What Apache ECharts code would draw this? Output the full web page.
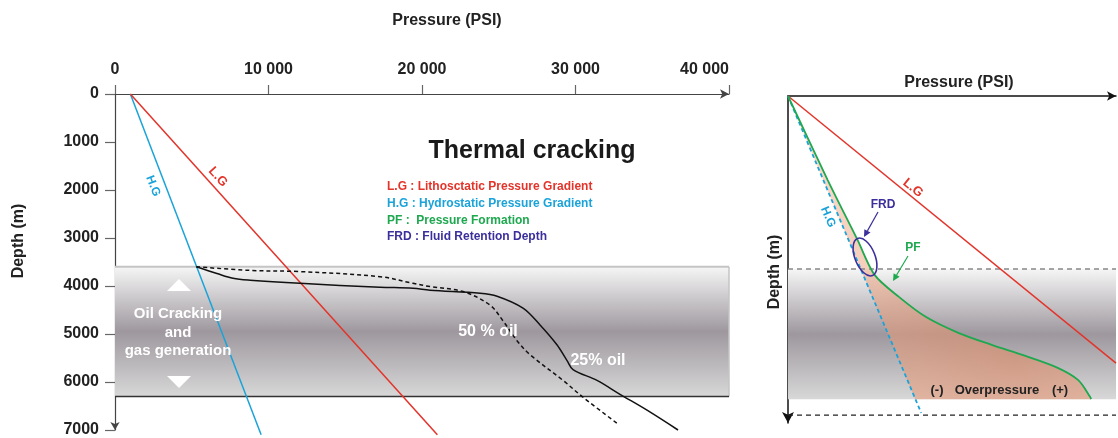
<!DOCTYPE html>
<html><head><meta charset="utf-8">
<script src="https://cdn.jsdelivr.net/npm/echarts@6/dist/echarts.min.js"></script>
<style>html,body{margin:0;padding:0;background:#fff}#c{width:1118px;height:438px}</style>
</head><body><div id="c"></div>
<script>
// ---- Left panel data (pressure in PSI, depth in m) ----
const pressureTicks = [0, 10000, 20000, 30000, 40000];
const depthTicks = [0, 1000, 2000, 3000, 4000, 5000, 6000, 7000];
const crackingZone = [[0, 40000, 3600, 6300]];
const lithostatic = [[1000, 0], [21000, 7100]];
const hydrostatic = [[1000, 0], [9520, 7100]];
const oil25 = [[5300,3600],[6640,3740],[7690,3840],[8800,3880],[12050,3945],[17260,4025],[19410,4047],[20520,4088],[23780,4150],[24890,4212],[26580,4460],[27690,4811],[28790,5224],[29450,5554],[29840,5740],[31400,5967],[32900,6256],[34660,6587],[36680,7000]];
const oil50 = [[5300,3600],[8800,3675],[12050,3700],[17260,3805],[19410,3944],[20520,4012],[22670,4116],[24430,4398],[25280,4728],[26190,5141],[27040,5431],[29190,5967],[30490,6318],[32770,6876]];

// ---- Right schematic data (relative units 0-100) ----
const schemBand = [[0, 100, 52.9, 92.7]];
const schemLG = [[0, 0], [100, 81.7]];
const schemHG = [[0, 0], [40.6, 96.9]];
const schemPF = [[0,0],[12.1,25.7],[21.2,44.0],[26.4,54.7],[33.9,61.5],[42.1,67.6],[52.1,72.5],[62.1,76.1],[72.4,79.5],[82.4,83.2],[88.5,86.9],[92.1,92.0],[92.4,92.7]];
const schemHGAtBase = [38.8, 92.7];
const schemTopLine = [[0, 52.9], [100, 52.9]];
const schemBaseLine = [[0, 97.6], [100, 97.6]];

const RED = '#e3342a', BLUE = '#1aa3d9', GREEN = '#1ea84f', PURPLE = '#3b2f9c';
const FONT = '"Liberation Sans", Arial, sans-serif';

const chart = echarts.init(document.getElementById('c'), null, {renderer: 'canvas'});

function bandGradient() {
  return new echarts.graphic.LinearGradient(0, 0, 0, 1, [
    {offset: 0, color: '#f6f6f6'},
    {offset: 0.5, color: '#9e989e'},
    {offset: 1, color: '#d8d8d8'}
  ]);
}

function bandRender(withBorder) {
  return function (params, api) {
    const p0 = api.coord([api.value(0), api.value(2)]);
    const p1 = api.coord([api.value(1), api.value(3)]);
    const children = [{
      type: 'rect',
      shape: {x: p0[0], y: p0[1], width: p1[0] - p0[0], height: p1[1] - p0[1]},
      style: {fill: bandGradient()}
    }];
    if (withBorder) {
      children.push({type: 'line', shape: {x1: p0[0], y1: p0[1], x2: p1[0], y2: p0[1]}, style: {stroke: '#c4c4c4', lineWidth: 2}});
      children.push({type: 'line', shape: {x1: p1[0], y1: p0[1], x2: p1[0], y2: p1[1]}, style: {stroke: '#c4c4c4', lineWidth: 1.5}});
      children.push({type: 'line', shape: {x1: p0[0], y1: p1[1], x2: p1[0], y2: p1[1]}, style: {stroke: '#333', lineWidth: 1.5}});
    }
    return {type: 'group', children: children};
  };
}

function fillRender(params, api) {
  const pts = schemPF.map(p => api.coord(p));
  pts.push(api.coord(schemHGAtBase));
  pts.push(api.coord(schemHG[0]));
  return {
    type: 'polygon',
    shape: {points: pts},
    style: {fill: new echarts.graphic.RadialGradient(0.75, 0.85, 0.9, [
      {offset: 0, color: 'rgba(222,140,105,0.62)'},
      {offset: 1, color: 'rgba(244,170,135,0.45)'}
    ])}
  };
}

function fmtP(v) { return String(v).replace(/\B(?=(\d{3})+(?!\d))/g, ' '); }

function arrow(x1, y1, x2, y2, color) {
  const dx = x2 - x1, dy = y2 - y1, L = Math.hypot(dx, dy);
  const ux = dx / L, uy = dy / L, px = -uy, py = ux;
  const bx = x2 - ux * 7, by = y2 - uy * 7;
  return [
    {type: 'line', shape: {x1: x1, y1: y1, x2: bx, y2: by}, style: {stroke: color, lineWidth: 1.2}, z: 20},
    {type: 'polygon', shape: {points: [[x2, y2], [bx + px * 3.5, by + py * 3.5], [bx - px * 3.5, by - py * 3.5]]}, style: {fill: color}, z: 20}
  ];
}

function txt(x, y, s, size, color, rot, align) {
  return {
    type: 'text', x: x, y: y, rotation: (rot || 0) * Math.PI / 180, z: 30,
    style: {text: s, font: 'bold ' + size + 'px ' + FONT, fill: color, align: align || 'center', verticalAlign: 'middle'}
  };
}

const deg = Math.PI / 180;

const option = {
  backgroundColor: '#ffffff',
  animation: false,
  grid: [
    {left: 115, top: 94, width: 614, height: 339},
    {left: 788, top: 96, width: 328, height: 327}
  ],
  xAxis: [
    {
      type: 'value', gridIndex: 0, position: 'top', min: pressureTicks[0], max: pressureTicks[pressureTicks.length - 1], interval: 10000,
      axisLine: {show: true, symbol: ['none', 'arrow'], symbolSize: [7, 9], lineStyle: {color: '#444', width: 1.2}},
      axisTick: {show: true, length: 9, lineStyle: {color: '#666', width: 1.2}},
      axisLabel: {fontSize: 16, fontWeight: 'bold', color: '#222', fontFamily: FONT, margin: 16, formatter: fmtP, alignMaxLabel: 'right'},
      splitLine: {show: false}
    },
    {
      type: 'value', gridIndex: 1, position: 'top', min: 0, max: 100,
      axisLine: {show: true, symbol: ['none', 'arrow'], symbolSize: [7, 9], lineStyle: {color: '#111', width: 1.5}},
      axisTick: {show: false}, axisLabel: {show: false}, splitLine: {show: false}
    }
  ],
  yAxis: [
    {
      type: 'value', gridIndex: 0, inverse: true, min: depthTicks[0], max: depthTicks[depthTicks.length - 1], interval: 1000,
      axisLine: {show: true, symbol: ['arrow', 'none'], symbolSize: [7, 8], lineStyle: {color: '#444', width: 1.2}},
      axisTick: {show: true, length: 10, lineStyle: {color: '#666', width: 1.2}},
      axisLabel: {fontSize: 16, fontWeight: 'bold', color: '#222', fontFamily: FONT, margin: 16, formatter: v => String(v)},
      splitLine: {show: false}
    },
    {
      type: 'value', gridIndex: 1, inverse: true, min: 0, max: 100,
      axisLine: {show: true, symbol: ['arrow', 'none'], symbolSize: [9, 11], lineStyle: {color: '#111', width: 1.5}},
      axisTick: {show: false}, axisLabel: {show: false}, splitLine: {show: false}
    }
  ],
  series: [
    {type: 'custom', xAxisIndex: 0, yAxisIndex: 0, data: crackingZone, renderItem: bandRender(true), z: 1, silent: true},
    {type: 'line', xAxisIndex: 0, yAxisIndex: 0, data: hydrostatic, symbol: 'none', clip: false, lineStyle: {color: BLUE, width: 1.5}, z: 3},
    {type: 'line', xAxisIndex: 0, yAxisIndex: 0, data: lithostatic, symbol: 'none', clip: false, lineStyle: {color: RED, width: 1.5}, z: 3},
    {type: 'line', xAxisIndex: 0, yAxisIndex: 0, data: oil25, symbol: 'none', smooth: 0.35, clip: false, lineStyle: {color: '#111', width: 1.5}, z: 4},
    {type: 'line', xAxisIndex: 0, yAxisIndex: 0, data: oil50, symbol: 'none', smooth: 0.35, clip: false, lineStyle: {color: '#111', width: 1.5, type: [4, 3]}, z: 4},

    {type: 'custom', xAxisIndex: 1, yAxisIndex: 1, data: schemBand, renderItem: bandRender(false), z: 1, silent: true},
    {type: 'custom', xAxisIndex: 1, yAxisIndex: 1, data: [[0, 0]], renderItem: fillRender, z: 2, silent: true},
    {type: 'line', xAxisIndex: 1, yAxisIndex: 1, data: schemTopLine, symbol: 'none', lineStyle: {color: '#888', width: 1.3, type: [5, 4]}, z: 3},
    {type: 'line', xAxisIndex: 1, yAxisIndex: 1, data: schemBaseLine, symbol: 'none', lineStyle: {color: '#222', width: 1.3, type: [5, 4]}, z: 3},
    {type: 'line', xAxisIndex: 1, yAxisIndex: 1, data: schemLG, symbol: 'none', lineStyle: {color: RED, width: 1.5}, z: 4},
    {type: 'line', xAxisIndex: 1, yAxisIndex: 1, data: schemHG, symbol: 'none', lineStyle: {color: BLUE, width: 1.8, type: [4, 3]}, z: 4},
    {type: 'line', xAxisIndex: 1, yAxisIndex: 1, data: schemPF, symbol: 'none', smooth: 0.3, lineStyle: {color: GREEN, width: 1.8}, z: 5}
  ],
  graphic: [
    txt(447, 21, 'Pressure (PSI)', 16, '#222'),
    txt(19, 241, 'Depth (m)', 16, '#222', 90),
    txt(959, 83, 'Pressure (PSI)', 16, '#222'),
    txt(775, 272, 'Depth (m)', 16, '#222', 90),
    txt(532, 151, 'Thermal cracking', 25, '#1a1a1a'),
    txt(387, 187, 'L.G : Lithosctatic Pressure Gradient', 12, RED, 0, 'left'),
    txt(387, 204, 'H.G : Hydrostatic Pressure Gradient', 12, BLUE, 0, 'left'),
    txt(387, 221, 'PF :  Pressure Formation', 12, GREEN, 0, 'left'),
    txt(387, 237, 'FRD : Fluid Retention Depth', 12, PURPLE, 0, 'left'),
    txt(218, 177, 'L.G', 13, RED, -48),
    txt(153, 186, 'H.G', 12, BLUE, -69),
    txt(178, 314, 'Oil Cracking', 15, '#ffffff'),
    txt(178, 333, 'and', 15, '#ffffff'),
    txt(178, 351, 'gas generation', 15, '#ffffff'),
    {type: 'polygon', z: 30, shape: {points: [[179, 279], [167, 291], [191, 291]]}, style: {fill: '#ffffff'}},
    {type: 'polygon', z: 30, shape: {points: [[167, 376], [191, 376], [179, 388]]}, style: {fill: '#ffffff'}},
    txt(488, 332, '50 % oil', 16, '#ffffff'),
    txt(598, 361, '25% oil', 16, '#ffffff'),
    txt(913, 188, 'L.G', 13, RED, -39),
    txt(828, 217, 'H.G', 12, BLUE, -67),
    txt(883, 205, 'FRD', 12, PURPLE),
    txt(913, 248, 'PF', 12, GREEN),
    {type: 'ellipse', x: 865, y: 257, rotation: 22 * deg, z: 25, shape: {cx: 0, cy: 0, rx: 10, ry: 20}, style: {fill: 'none', stroke: PURPLE, lineWidth: 1.6}},
    ...arrow(878, 212, 864, 237, PURPLE),
    ...arrow(908, 256, 893, 281, GREEN),
    txt(937, 390, '(-)', 13, '#222'),
    txt(997, 390, 'Overpressure', 13, '#222'),
    txt(1060, 390, '(+)', 13, '#222')
  ]
};
chart.setOption(option);
</script>
</body></html>
